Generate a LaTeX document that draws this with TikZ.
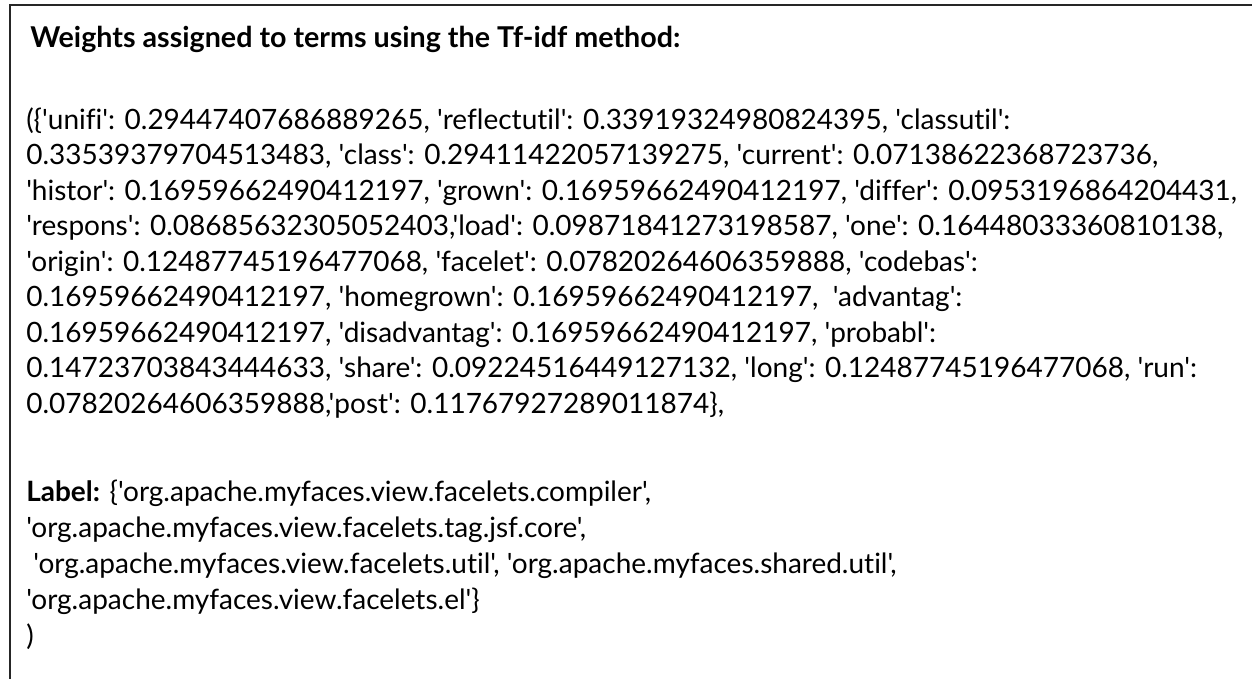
\documentclass[tikz,border=0pt]{standalone}
\usepackage{fontspec}
\setmainfont{Lato}[Ligatures={TeXOff,CommonOff}]
\usepackage{tikz}
\usetikzlibrary{positioning}

\begin{document}
\begin{tikzpicture}[
  x=0.75pt, y=-0.75pt,
  txt/.style={anchor=base west, inner sep=0pt, font=\fontsize{21}{25}\selectfont},
  head/.style={txt, font=\fontsize{21.5}{25}\selectfont\bfseries},
  frame/.style={draw=black!85, line width=0.9pt},
]
\useasboundingbox (0,0) rectangle (1252,679);
\draw[frame] (1252,5) -- (10,5) -- (10,679);

\node[head] (title) at (30,47) {Weights assigned to terms using the Tf-idf method:};

\node[txt] (w1) at (26,129)   {(\{'unifi': 0.29447407686889265, 'reflectutil': 0.33919324980824395, 'classutil':};
\node[txt] (w2) at (26,164.5) {0.33539379704513483, 'class': 0.29411422057139275, 'current': 0.07138622368723736,};
\node[txt] (w3) at (26,200)   {'histor': 0.16959662490412197, 'grown': 0.16959662490412197, 'differ': 0.0953196864204431,};
\node[txt] (w4) at (26,235.5) {'respons': 0.08685632305052403,'load': 0.09871841273198587, 'one': 0.16448033360810138,};
\node[txt] (w5) at (26,271)   {'origin': 0.12487745196477068, 'facelet': 0.07820264606359888, 'codebas':};
\node[txt] (w6) at (26,306.5) {0.16959662490412197, 'homegrown': 0.16959662490412197, \ 'advantag':};
\node[txt] (w7) at (26,342)   {0.16959662490412197, 'disadvantag': 0.16959662490412197, 'probabl':};
\node[txt] (w8) at (26,377.5) {0.14723703843444633, 'share': 0.09224516449127132, 'long': 0.12487745196477068, 'run':};
\node[txt] (w9) at (26,413)   {0.07820264606359888,'post': 0.11767927289011874\},};

\node[txt] (lab1) at (26,501) {\textbf{Label:} \{'org.apache.myfaces.view.facelets.compiler',};
\node[txt] (lab2) at (26,537) {'org.apache.myfaces.view.facelets.tag.jsf.core',};
\node[txt] (lab3) at (26,573) {\ 'org.apache.myfaces.view.facelets.util', 'org.apache.myfaces.shared.util',};
\node[txt] (lab4) at (26,609) {'org.apache.myfaces.view.facelets.el'\}};
\node[txt] (lab5) at (26,645) {)};
\end{tikzpicture}
\end{document}
